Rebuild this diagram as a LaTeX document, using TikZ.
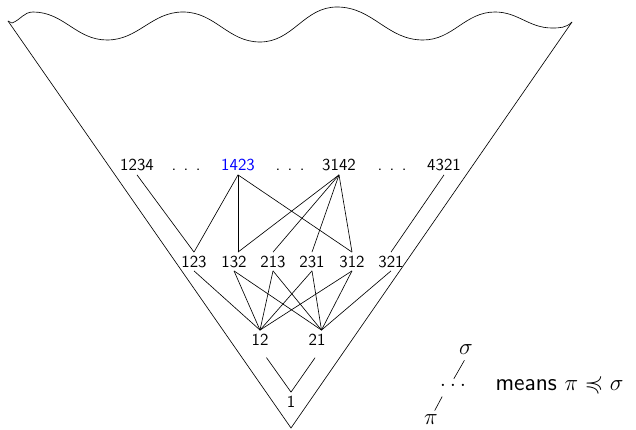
\documentclass[tikz,border=0pt]{standalone}
\usepackage{amssymb}
\usepackage{tikz}
\usetikzlibrary{positioning}

\begin{document}
\begin{tikzpicture}[
  x=0.625pt, y=-0.625pt,
  perm/.style={font=\fontsize{10.5}{12}\sffamily, inner sep=2pt, anchor=base},
  gap/.style={perm},
  sym/.style={font=\fontsize{15}{18}\sffamily, inner sep=2pt, anchor=base}
]
  \useasboundingbox (0,0) rectangle (636,429);

  % the cone
  \coordinate (tl) at (8,21);
  \coordinate (tip) at (291,428);
  \coordinate (tr) at (572,22);
  \draw (tl) -- (tip) -- (tr);
  \draw (tl) -- (12,23) to[out=20,in=180] (33,12) to[out=0,in=180] (107,40)
    to[out=0,in=180] (183,12) to[out=0,in=180] (260,42) to[out=0,in=180] (337,7)
    to[out=0,in=180] (423,40) to[out=0,in=180] (495,12) to[out=0,in=180] (552,28)
    to[out=0,in=-135] (tr);

  % length 4
  \node[perm] (n1234) at (137,171) {1234};
  \node[gap] (g1) at (186,171) {. . .};
  \node[perm, text=blue] (n1423) at (238,171) {1423};
  \node[gap] (g2) at (290,171) {. . .};
  \node[perm] (n3142) at (339,171) {3142};
  \node[gap] (g3) at (392,171) {. . .};
  \node[perm] (n4321) at (444,171) {4321};

  % length 3
  \node[perm] (n123) at (194,267) {123};
  \node[perm] (n132) at (234,267) {132};
  \node[perm] (n213) at (273,267) {213};
  \node[perm] (n231) at (312,267) {231};
  \node[perm] (n312) at (352,267) {312};
  \node[perm] (n321) at (391,267) {321};

  % length 2 and 1
  \node[perm] (n12) at (260,345) {12};
  \node[perm] (n21) at (317,345) {21};
  \node[perm] (n1) at (291,407) {1};

  \foreach \a/\b in {n1234/n123, n1423/n123, n1423/n312, n3142/n213, n3142/n231, n3142/n312, n4321/n321}
    \draw (\a.south) -- (\b.north);
  \foreach \a in {n1423, n3142}
    \draw (\a.south) -- ([xshift=2.5pt]n132.north);
  \foreach \a in {n123, n132, n213, n231, n312}
    \draw (\a.south) -- (n12.north);
  \foreach \a in {n132, n213, n231, n312, n321}
    \draw (\a.south) -- ([xshift=2.8pt]n21.north);
  \draw[shorten <=7pt] (n12.south) -- (n1.north);
  \draw[shorten <=7pt] ([xshift=2.8pt]n21.south) -- (n1.north);

  % legend
  \node[sym] (sig) at (466,354) {$\sigma$};
  \node[sym] (ldots) at (453,386) {$\ldots$};
  \node[sym] (pi) at (431,424) {$\pi$};
  \node[sym, anchor=base west] (means) at (492,390) {means $\pi \preccurlyeq \sigma$};
  \draw[shorten <=2pt, shorten >=1pt] (sig.south) -- (ldots.north);
  \draw[shorten <=5pt] ([xshift=-4.4pt]ldots.south) -- ([xshift=2.3pt]pi.north);
\end{tikzpicture}
\end{document}
